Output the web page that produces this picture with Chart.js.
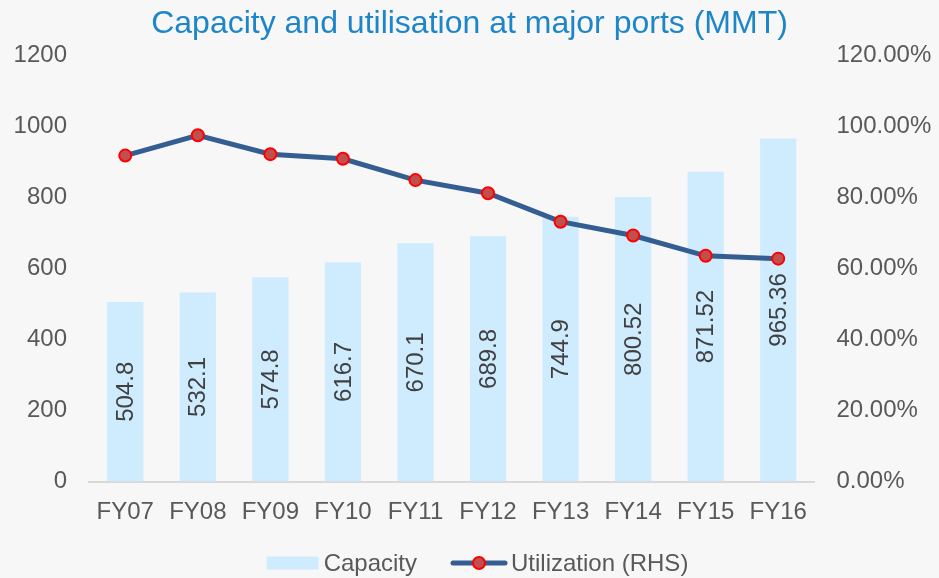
<!DOCTYPE html>
<html>
<head>
<meta charset="utf-8">
<title>Capacity and utilisation at major ports</title>
<script src="https://cdn.jsdelivr.net/npm/chart.js@4.4.0/dist/chart.umd.min.js"></script>
<style>
    html, body { margin: 0; padding: 0; background: #f7f7f7; }
    .chart-container { width: 939px; height: 578px; position: relative; }
</style>
</head>
<body>
<div class="chart-container"><canvas id="portsChart"></canvas></div>
<script>
const years = ['FY07', 'FY08', 'FY09', 'FY10', 'FY11', 'FY12', 'FY13', 'FY14', 'FY15', 'FY16'];
const capacity = [504.8, 532.1, 574.8, 616.7, 670.1, 689.8, 744.9, 800.52, 871.52, 965.36];
const utilization = [91.7, 97.4, 92.1, 90.8, 84.8, 81.1, 73.1, 69.2, 63.5, 62.7];
const capacityTicks = [0, 200, 400, 600, 800, 1000, 1200];
const utilizationTicks = [0, 20, 40, 60, 80, 100, 120];

const FONT = '"Liberation Sans", Arial, sans-serif';
const TEXT = '#595959';

Chart.defaults.font.family = FONT;
Chart.defaults.font.size = 24;
Chart.defaults.color = TEXT;

// grey page background behind the chart
const background = {
    id: 'background',
    beforeDraw(chart) {
        const ctx = chart.ctx;
        ctx.save();
        ctx.fillStyle = '#f7f7f7';
        ctx.fillRect(0, 0, chart.width, chart.height);
        ctx.restore();
    }
};

// vertical value labels centred in each bar
const barLabels = {
    id: 'barLabels',
    afterDatasetsDraw(chart) {
        const ctx = chart.ctx;
        const meta = chart.getDatasetMeta(1);
        ctx.save();
        ctx.font = '24px ' + FONT;
        ctx.fillStyle = '#404040';
        ctx.textAlign = 'center';
        ctx.textBaseline = 'middle';
        meta.data.forEach((bar, i) => {
            const y = (bar.y + bar.base) / 2;
            ctx.save();
            ctx.translate(bar.x, y);
            ctx.rotate(-Math.PI / 2);
            ctx.fillText(String(capacity[i]), 0, 1);
            ctx.restore();
        });
        ctx.restore();
    }
};

// legend drawn at the bottom: bar swatch + line with marker
const bottomLegend = {
    id: 'bottomLegend',
    afterDraw(chart) {
        const ctx = chart.ctx;
        const y = 563;
        ctx.save();
        ctx.font = '24px ' + FONT;
        ctx.textBaseline = 'middle';
        const labelA = chart.data.datasets[1].label;
        const labelB = chart.data.datasets[0].label;
        const wA = ctx.measureText(labelA).width;
        const wB = ctx.measureText(labelB).width;
        const total = 52 + 5 + wA + 34 + 56 + 4 + wB;
        let x = chart.width / 2 + 8 - total / 2;

        ctx.fillStyle = '#cfecff';
        ctx.fillRect(x, y - 6.5, 52, 13);
        x += 57;
        ctx.fillStyle = TEXT;
        ctx.fillText(labelA, x, y + 1);
        x += wA + 34;

        ctx.strokeStyle = '#345e91';
        ctx.lineWidth = 5;
        ctx.lineCap = 'round';
        ctx.beginPath();
        ctx.moveTo(x + 2, y);
        ctx.lineTo(x + 54, y);
        ctx.stroke();
        ctx.beginPath();
        ctx.arc(x + 28, y, 6, 0, Math.PI * 2);
        ctx.fillStyle = '#c0504d';
        ctx.fill();
        ctx.lineWidth = 2;
        ctx.strokeStyle = '#ff0000';
        ctx.stroke();
        x += 60;
        ctx.fillStyle = TEXT;
        ctx.fillText(labelB, x, y + 1);
        ctx.restore();
    }
};

const ctx = document.getElementById('portsChart').getContext('2d');
new Chart(ctx, {
    type: 'bar',
    data: {
        labels: years,
        datasets: [
            {
                type: 'line',
                label: 'Utilization (RHS)',
                data: utilization,
                yAxisID: 'yRight',
                borderColor: '#345e91',
                borderWidth: 5,
                pointRadius: 6,
                pointBorderWidth: 2,
                pointBackgroundColor: '#c0504d',
                pointBorderColor: '#ff0000',
                tension: 0,
                order: 0
            },
            {
                type: 'bar',
                label: 'Capacity',
                data: capacity,
                yAxisID: 'yLeft',
                backgroundColor: '#cfecff',
                barPercentage: 0.5,
                categoryPercentage: 1,
                order: 1
            }
        ]
    },
    options: {
        responsive: true,
        maintainAspectRatio: false,
        animation: false,
        layout: { padding: { left: 0, right: 0, top: 0, bottom: 46.5 } },
        plugins: {
            legend: { display: false },
            tooltip: { enabled: false },
            title: {
                display: true,
                text: 'Capacity and utilisation at major ports (MMT)',
                color: '#1e86c8',
                font: { size: 32, weight: 'normal' },
                padding: { top: 5, bottom: 11.6 }
            }
        },
        scales: {
            x: {
                grid: { display: false, drawTicks: false },
                border: { display: true, color: '#d9d9d9', width: 2 },
                ticks: { padding: 16, color: TEXT },
                afterFit(scale) { scale.height = 50; }
            },
            yLeft: {
                position: 'left',
                min: 0,
                max: 1200,
                grid: { display: false, drawTicks: false },
                border: { display: false },
                afterBuildTicks(scale) { scale.ticks = capacityTicks.map(v => ({ value: v })); },
                ticks: { padding: 22, color: TEXT, callback: v => String(v) },
                afterFit(scale) { scale.width = 89; }
            },
            yRight: {
                position: 'right',
                min: 0,
                max: 120,
                grid: { display: false, drawTicks: false },
                border: { display: false },
                afterBuildTicks(scale) { scale.ticks = utilizationTicks.map(v => ({ value: v })); },
                ticks: {
                    padding: 22,
                    color: TEXT,
                    callback: v => v.toFixed(2) + '%'
                },
                afterFit(scale) { scale.width = 124.5; }
            }
        }
    },
    plugins: [background, barLabels, bottomLegend]
});
</script>
</body>
</html>
